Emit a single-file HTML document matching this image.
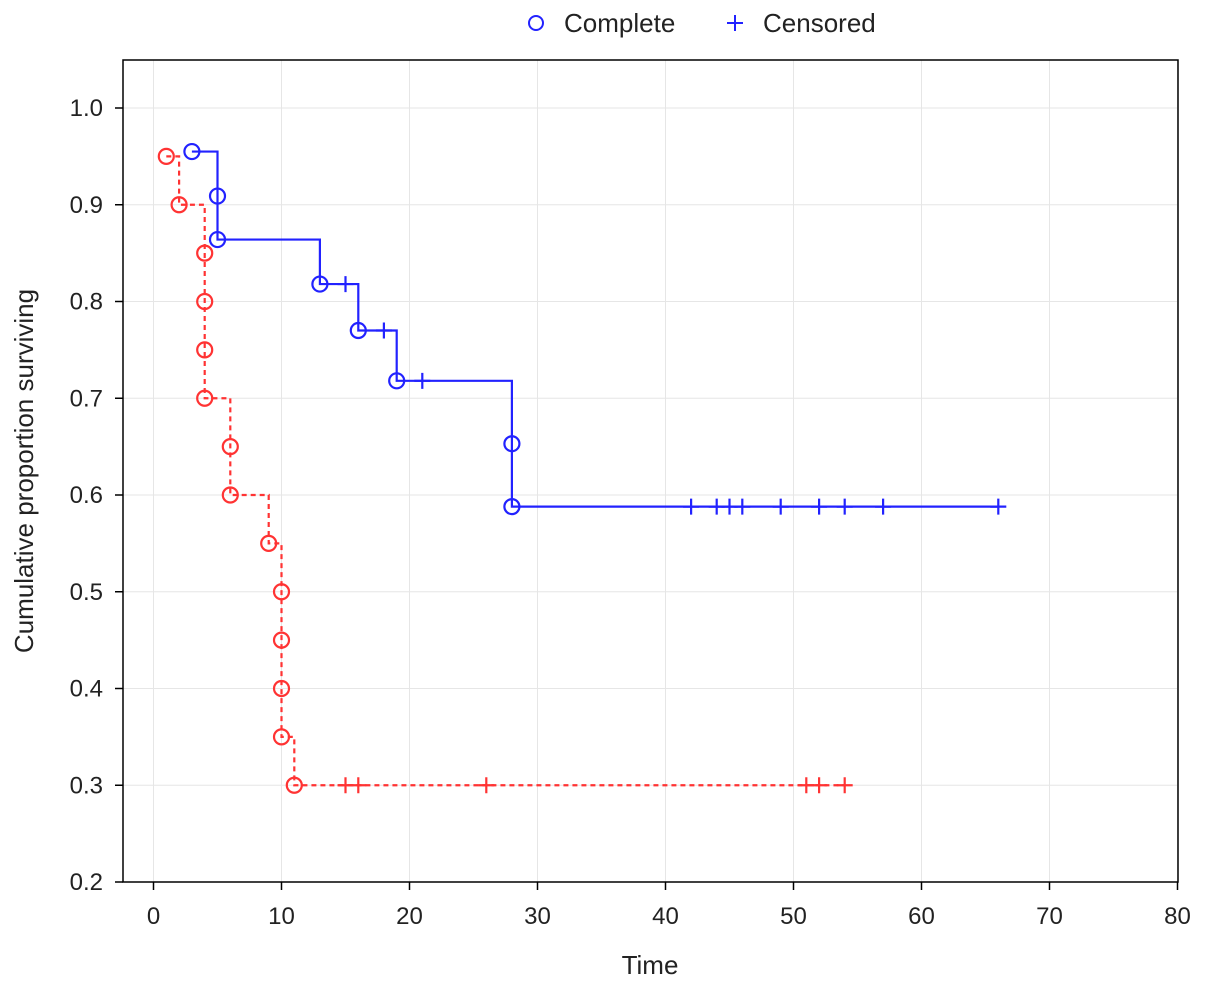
<!DOCTYPE html>
<html><head><meta charset="utf-8"><style>
body{margin:0;background:#fff}
svg{display:block;font-family:"Liberation Sans",sans-serif}
</style></head><body>
<svg id="chart" width="1205" height="990">
<rect x="0" y="0" width="1205" height="990" fill="#fff"/>
<g id="grid"></g>
<rect x="123" y="60" width="1055" height="822" fill="none" stroke="#000" stroke-width="1.5"/>
<g id="axes"></g>
<g id="series"></g>
<g>
<circle cx="536" cy="23" r="7" fill="none" stroke="#2222ff" stroke-width="2"/>
<text x="564" y="32" font-size="26" fill="#222">Complete</text>
<path d="M727 23h16M735 15v16" stroke="#2222ff" stroke-width="2"/>
<text x="763" y="32" font-size="26" fill="#222">Censored</text>
</g>
<text x="650" y="974" font-size="26" text-anchor="middle" fill="#222">Time</text>
<text transform="translate(33,471) rotate(-90)" font-size="26" text-anchor="middle" fill="#222">Cumulative proportion  surviving</text>
</svg>
<script>
const xTicks=[0,10,20,30,40,50,60,70,80];
const yTicks=[0.2,0.3,0.4,0.5,0.6,0.7,0.8,0.9,1.0];
const blueTimes=[3,5,5,13,16,19,28,28];
const blueSurv=[0.955,0.909,0.864,0.818,0.770,0.718,0.653,0.588];
const blueCensTimes=[15,18,21,42,44,45,46,49,52,54,57,66];
const blueCensSurv=[0.818,0.770,0.718,0.588,0.588,0.588,0.588,0.588,0.588,0.588,0.588,0.588];
const redTimes=[1,2,4,4,4,4,6,6,9,10,10,10,10,11];
const redSurv=[0.95,0.9,0.85,0.8,0.75,0.7,0.65,0.6,0.55,0.5,0.45,0.4,0.35,0.3];
const redCensTimes=[15,16,26,51,52,54];
const redCensSurv=[0.3,0.3,0.3,0.3,0.3,0.3];

const NS="http://www.w3.org/2000/svg";
const X=t=>153.5+t*12.8;
const Y=v=>882-(v-0.2)*967.5;
function mk(tag,attrs,parent){const e=document.createElementNS(NS,tag);for(const k in attrs)e.setAttribute(k,attrs[k]);parent.appendChild(e);return e;}
const grid=document.getElementById('grid'),axes=document.getElementById('axes'),series=document.getElementById('series');
xTicks.forEach(t=>{
  const g=mk('line',{x1:X(t),x2:X(t),y1:60,y2:882,stroke:'#e6e6e6','stroke-width':1},grid);
  
  
  const tk=mk('line',{x1:X(t),x2:X(t),y1:882,y2:890,stroke:'#000','stroke-width':1.5},axes);
  
  
  const l=mk('text',{x:X(t),y:924,'font-size':24,'text-anchor':'middle',fill:'#222'},axes);
  l.textContent=t;
  
  
});
yTicks.forEach(v=>{
  const g=mk('line',{x1:123,x2:1178,y1:Y(v),y2:Y(v),stroke:'#e6e6e6','stroke-width':1},grid);
  
  
  const tk=mk('line',{x1:115,x2:123,y1:Y(v),y2:Y(v),stroke:'#000','stroke-width':1.5},axes);
  
  
  const l=mk('text',{x:103,y:Y(v)+8,'font-size':24,'text-anchor':'end',fill:'#222'},axes);
  l.textContent=v.toFixed(1);
  
  
});
function draw(times,surv,ct,cs,color,dash,name,endT){
  let d='M'+X(times[0])+' '+Y(surv[0]);
  for(let i=1;i<times.length;i++){d+=' H'+X(times[i])+' V'+Y(surv[i]);}
  d+=' H'+X(endT);
  const p=mk('path',{d:d,fill:'none',stroke:color,'stroke-width':2.2,'stroke-dasharray':dash},series);
  
  
  times.forEach((t,i)=>{
    const c=mk('circle',{cx:X(t),cy:Y(surv[i]),r:7.5,fill:'none',stroke:color,'stroke-width':2.2},series);
    
    
  });
  ct.forEach((t,i)=>{
    const x=X(t),y=Y(cs[i]);
    const c=mk('path',{d:`M${x-8} ${y}h16M${x} ${y-8}v16`,stroke:color,'stroke-width':2.2},series);
    
    
  });
}
draw(blueTimes,blueSurv,blueCensTimes,blueCensSurv,'#2222ff','none','group-1',Math.max(...blueCensTimes));
draw(redTimes,redSurv,redCensTimes,redCensSurv,'#ff3333','5 4','group-2',Math.max(...redCensTimes));
</script>
</body></html>
